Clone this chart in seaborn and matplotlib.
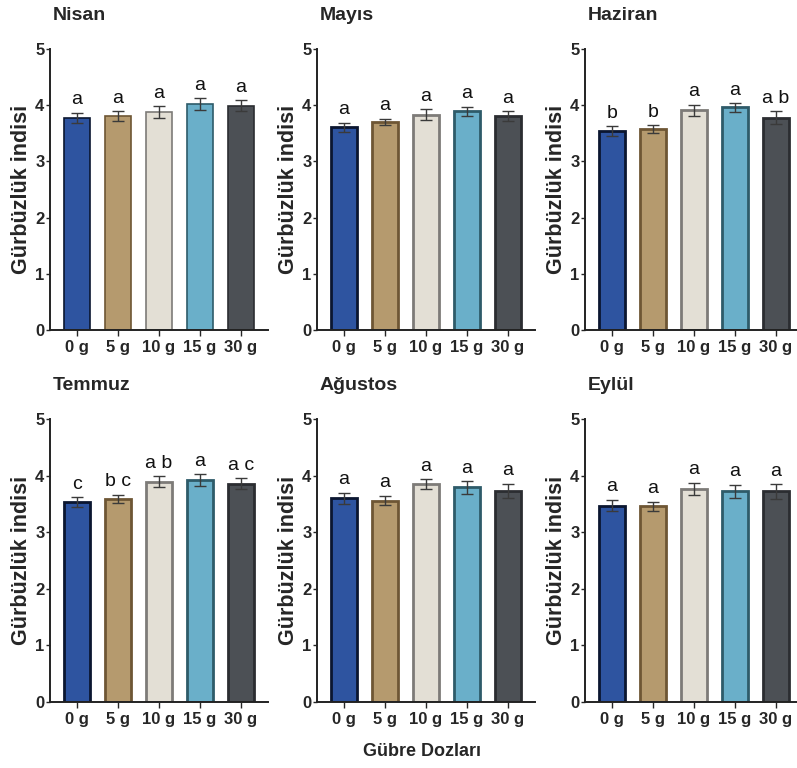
import matplotlib
matplotlib.use("Agg")
import matplotlib.pyplot as plt
import seaborn as sns
import pandas as pd

doses = ["0 g", "5 g", "10 g", "15 g", "30 g"]
months = ["Nisan", "Mayıs", "Haziran", "Temmuz", "Ağustos", "Eylül"]

nisan = [3.78, 3.80, 3.88, 4.02, 3.99]
nisan_err = [0.09, 0.09, 0.10, 0.10, 0.10]
mayis = [3.61, 3.70, 3.83, 3.89, 3.80]
mayis_err = [0.08, 0.06, 0.10, 0.08, 0.09]
haziran = [3.54, 3.57, 3.91, 3.96, 3.78]
haziran_err = [0.09, 0.07, 0.10, 0.08, 0.11]
temmuz = [3.53, 3.59, 3.89, 3.92, 3.86]
temmuz_err = [0.09, 0.07, 0.10, 0.10, 0.09]
agustos = [3.60, 3.56, 3.85, 3.79, 3.73]
agustos_err = [0.10, 0.08, 0.09, 0.11, 0.13]
eylul = [3.47, 3.46, 3.76, 3.72, 3.72]
eylul_err = [0.10, 0.08, 0.11, 0.12, 0.13]

nisan_let = ["a", "a", "a", "a", "a"]
mayis_let = ["a", "a", "a", "a", "a"]
haziran_let = ["b", "b", "a", "a", "a b"]
temmuz_let = ["c", "b c", "a b", "a", "a c"]
agustos_let = ["a", "a", "a", "a", "a"]
eylul_let = ["a", "a", "a", "a", "a"]

y_ticks = [0, 1, 2, 3, 4, 5]
y_label = "Gürbüzlük indisi"
x_label = "Gübre Dozları"

fills = ["#2e54a0", "#b59a6e", "#e3dfd5", "#6aafc9", "#4c5055"]
edges = ["#0b1630", "#6e5634", "#7d7b78", "#2e5b69", "#2b2d31"]

sns.set_style("ticks")
plt.rcParams["font.family"] = ["Liberation Sans", "DejaVu Sans"]

fig = plt.figure(figsize=(7.97, 7.68), dpi=100)
W, H = 797, 768

panels = [
    (nisan, nisan_err, nisan_let),
    (mayis, mayis_err, mayis_let),
    (haziran, haziran_err, haziran_let),
    (temmuz, temmuz_err, temmuz_let),
    (agustos, agustos_err, agustos_let),
    (eylul, eylul_err, eylul_let),
]
lefts = [50, 317, 585]
tops = [49, 419]
bottoms = [330, 702]
title_y = [15, 386]

for i, (vals, errs, lets) in enumerate(panels):
    r, c = divmod(i, 3)
    left = lefts[c]
    ax = fig.add_axes([left / W, 1 - bottoms[r] / H, 218 / W, (bottoms[r] - tops[r]) / H])
    df = pd.DataFrame({"dose": doses, "val": vals})
    sns.barplot(data=df, x="dose", y="val", hue="dose", palette=fills,
                width=0.64, ax=ax, legend=False, errorbar=None, saturation=1)
    lw = 1.2 if i == 0 else 2.0
    for p, ec in zip(ax.patches, edges):
        p.set_edgecolor(ec)
        p.set_linewidth(lw)
    ax.errorbar(range(5), vals, yerr=errs, fmt="none", ecolor="#3a3a3a",
                elinewidth=1.0, capsize=4, capthick=1.0, zorder=5)
    for j, (v, e, t) in enumerate(zip(vals, errs, lets)):
        ax.text(j, v + e + 0.15, t, ha="center", va="baseline",
                fontsize=14, color="#111111")
    ax.set_xlim(-0.66, 4.66)
    ax.set_ylim(0, 5)
    ax.set_yticks(y_ticks)
    ax.set_yticklabels([str(t) for t in y_ticks], fontsize=12, fontweight="bold")
    ax.set_xticks(range(5))
    ax.set_xticklabels(doses, fontsize=12, fontweight="bold")
    ax.tick_params(axis="y", length=3, width=1, pad=1)
    ax.tick_params(axis="x", length=4, width=1, pad=3)
    ax.set_xlabel("")
    ax.set_ylabel(y_label, fontsize=15.5, fontweight="bold", labelpad=2)
    for s in ["left", "bottom"]:
        ax.spines[s].set_linewidth(1.4)
        ax.spines[s].set_color("#222222")
    sns.despine(ax=ax)
    fig.text((left + 3) / W, 1 - title_y[r] / H, months[i], fontsize=14,
             fontweight="bold", ha="left", va="center")

fig.text(422 / W, 1 - 751 / H, x_label, fontsize=13, fontweight="bold",
         ha="center", va="center")

fig.savefig("out.png", dpi=100)
